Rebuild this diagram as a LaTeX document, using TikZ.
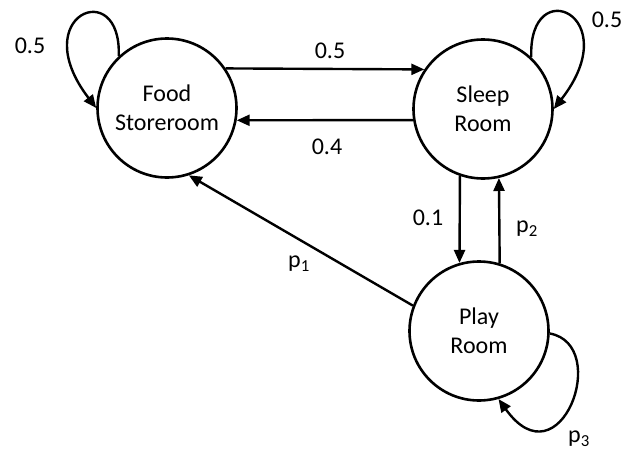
\documentclass[tikz,border=0pt]{standalone}
\usepackage{fontspec}
\setmainfont{Carlito}
\usetikzlibrary{arrows.meta}
\begin{document}
\begin{tikzpicture}[x=1pt,y=-1pt,
  state/.style={circle,draw,line width=2.6pt,minimum size=139pt,inner sep=0pt,align=center,font=\fontsize{24}{29}\selectfont},
  trans/.style={line width=2.4pt,-{Triangle[length=13pt,width=11pt]}},
  lbl/.style={font=\fontsize{24}{29}\selectfont,inner sep=0pt}]
\useasboundingbox (0,0) rectangle (625,450);
\node[state] (food) at (167,108) {Food\\Storeroom};
\node[state] (sleep) at (483,109) {Sleep\\Room};
\node[state] (play) at (479,331) {Play\\Room};
\draw[trans] (food.34) -- (sleep.146);
\draw[trans] (sleep.189) -- (food.350);
\draw[trans] (sleep.251) -- (play.106);
\draw[trans] (play.73) -- (sleep.283);
\draw[trans] (play.159) -- (food.288);
\draw[trans] (food.133) .. controls (122,-25) and (25,15) .. (food.180);
\draw[trans] (sleep.47) .. controls (528,-28) and (627,15) .. (sleep.0);
\draw[trans] (play.358) .. controls (612,345) and (560,485) .. (play.286);
\node[lbl] (l1) at (330,51) {0.5};
\node[lbl] (l2) at (327,147) {0.4};
\node[lbl] (l3) at (428,218) {0.1};
\node[lbl] (l4) at (527,229) {p\textsubscript{2}};
\node[lbl] (l5) at (299,264) {p\textsubscript{1}};
\node[lbl] (l6) at (30,46) {0.5};
\node[lbl] (l7) at (607,20) {0.5};
\node[lbl] (l8) at (579,439) {p\textsubscript{3}};
\end{tikzpicture}
\end{document}
